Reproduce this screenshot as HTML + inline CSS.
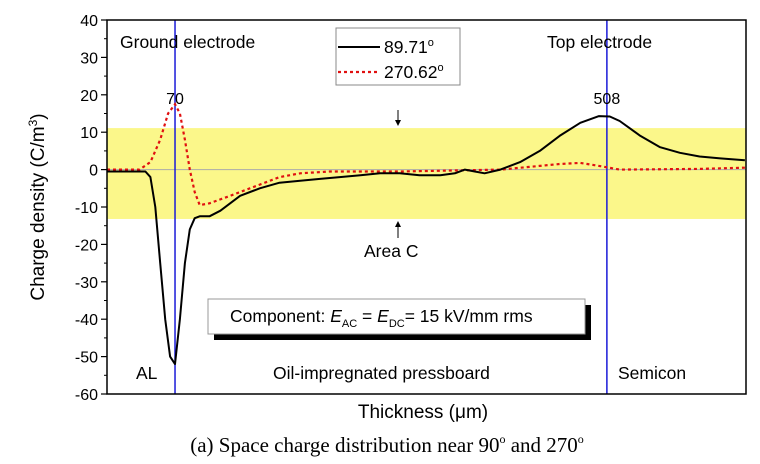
<!DOCTYPE html>
<html><head><meta charset="utf-8"><style>
body{margin:0;background:#fff;}
svg{display:block;font-family:"Liberation Sans",sans-serif;}
</style></head><body>
<svg id="c" width="760" height="464">
<g id="g"></g>
</svg>
<script>
const xs1=[1,40,45,50,55,60,65,70,75,80,85,90,95,105,116,136,156,176,197,217,237,258,278,298,318,339,354,364,374,384,400,420,440,460,481,500,511,521,542,562,582,602,623,648];
const ys1=[-0.5,-0.5,-2,-10,-25,-40,-50,-52,-40,-25,-16,-13,-12.5,-12.5,-11,-7,-5,-3.5,-3,-2.5,-2,-1.5,-1,-1,-1.5,-1.5,-1,0,-0.5,-1,0,2,5,9,12.5,14.3,14.2,13,9,6,4.5,3.5,3,2.5];
const xs2=[1,34,45,55,63,70,75,80,85,90,95,105,126,156,176,197,227,298,400,440,460,481,500,521,602,648];
const ys2=[0,0,2,8,15,17.5,15,8,0,-6,-9.5,-9,-7,-4,-2,-1,-0.5,-0.5,0,1,1.5,1.8,1,0,0.2,0.5];
const yTicks=[40,30,20,10,0,-10,-20,-30,-40,-50,-60];
const band=[11.1,-13.2];
const electrodes=[70,508];
const L=107,R=746,T=20,B=394;
const X=v=>106+0.986*v, Y=v=>T+(40-v)*(B-T)/100;
const g=document.getElementById('g');
function el(t,a,txt){const e=document.createElementNS('http://www.w3.org/2000/svg',t);for(const k in a)e.setAttribute(k,a[k]);if(txt!=null)e.textContent=txt;g.appendChild(e);return e;}
let e;
e=el('rect',{x:L,y:Y(band[0]),width:R-L,height:Y(band[1])-Y(band[0]),fill:'#fbf78a'});


e=el('line',{x1:L,x2:R,y1:Y(0),y2:Y(0),stroke:'#aaa','stroke-width':1});


electrodes.forEach((v,i)=>{
 e=el('line',{x1:X(v),x2:X(v),y1:T,y2:B,stroke:'#1a1ad8','stroke-width':1.5});
 
 
 e=el('text',{x:X(v),y:104,'font-size':16,'text-anchor':'middle'},String(v));
 
 
});
function path(xs,ys){return xs.map((x,i)=>(i?'L':'M')+X(x).toFixed(1)+','+Y(ys[i]).toFixed(1)).join(' ');}
e=el('path',{d:path(xs2,ys2),fill:'none',stroke:'#e01010','stroke-width':2.2,'stroke-dasharray':'3,3'});


e=el('path',{d:path(xs1,ys1),fill:'none',stroke:'#000','stroke-width':2,'stroke-linejoin':'round'});


e=el('path',{d:`M${L},${T}L${R},${T}L${R},${B}L${L},${B}Z`,fill:'none',stroke:'#000','stroke-width':1.5});


yTicks.forEach(v=>{
 el('line',{x1:L-6,x2:L,y1:Y(v),y2:Y(v),stroke:'#000','stroke-width':1.2});
 if(v>-60)el('line',{x1:L-3,x2:L,y1:Y(v-5),y2:Y(v-5),stroke:'#000','stroke-width':1});
 e=el('text',{x:L-9,y:Y(v)+6,'font-size':16,'text-anchor':'end'},String(v));
 
 
});
</script>
<svg width="760" height="464" style="position:absolute;left:0;top:0" font-family="Liberation Sans, sans-serif">
<text x="44" y="207" font-size="19" transform="rotate(-90 44 207)" text-anchor="middle">Charge density (C/m<tspan font-size="12" dy="-7">3</tspan><tspan dy="7">)</tspan></text>
<text x="423" y="418" font-size="19" text-anchor="middle">Thickness (μm)</text>
<text x="387" y="452" font-size="21" font-family="Liberation Serif, serif" text-anchor="middle">(a) Space charge distribution near 90<tspan font-size="12" dy="-9">o</tspan><tspan dy="9"> and 270</tspan><tspan font-size="12" dy="-9">o</tspan></text>
<text x="120" y="48" font-size="17.5">Ground electrode</text>
<text x="547" y="48" font-size="17.5">Top electrode</text>
<g>
<rect x="336" y="28" width="124" height="57" fill="#fff" stroke="#888"/>
<line x1="338" y1="47" x2="380" y2="47" stroke="#000" stroke-width="2"/>
<text x="384" y="53" font-size="17.5">89.71<tspan font-size="11" dy="-7">o</tspan></text>
<line x1="338" y1="72" x2="380" y2="72" stroke="#e01010" stroke-width="2.2" stroke-dasharray="3,3"/>
<text x="384" y="78" font-size="17.5">270.62<tspan font-size="11" dy="-7">o</tspan></text>
</g>
<g>
<line x1="398" y1="110" x2="398" y2="125" stroke="#000"/><path d="M395,120L398,126L401,120Z"/>
<line x1="398" y1="222" x2="398" y2="238" stroke="#000"/><path d="M395,227L398,221L401,227Z"/>
<text x="364" y="257" font-size="17.5">Area C</text>
</g>
<g>
<rect x="214" y="305" width="377" height="35" fill="#000"/>
<rect x="208" y="299" width="377" height="35" fill="#fff" stroke="#999"/>
<text x="230" y="322" font-size="17.5">Component: <tspan font-style="italic">E</tspan><tspan font-size="11" dy="5">AC</tspan><tspan dy="-5"> = </tspan><tspan font-style="italic">E</tspan><tspan font-size="11" dy="5">DC</tspan><tspan dy="-5">= 15 kV/mm rms</tspan></text>
</g>
<text x="136" y="379" font-size="17.5">AL</text>
<text x="273" y="379" font-size="17.5">Oil-impregnated pressboard</text>
<text x="618" y="379" font-size="17.5">Semicon</text>
</svg>
</body></html>
